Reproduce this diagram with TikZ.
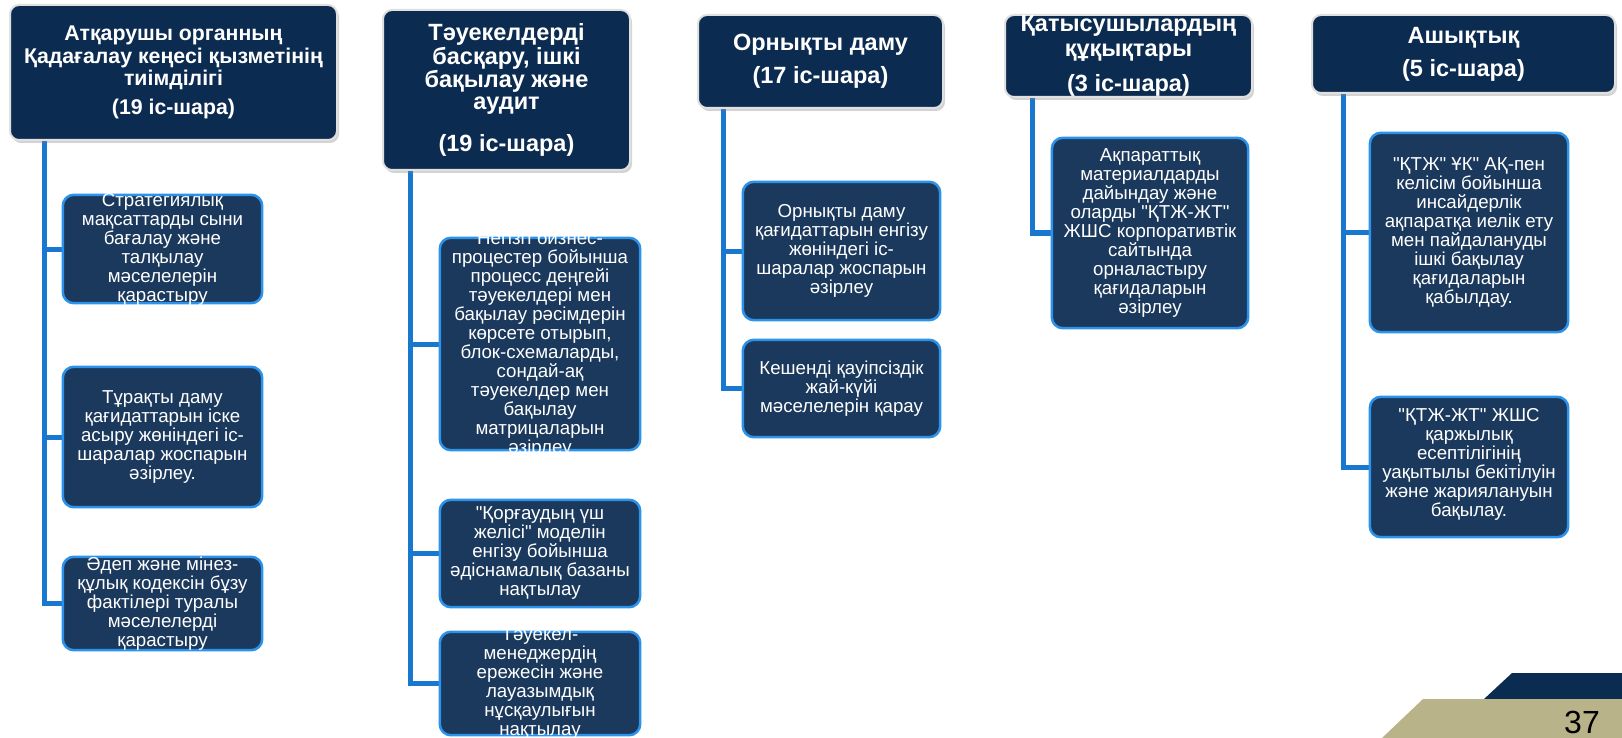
\documentclass[tikz,border=0pt]{standalone}
\usepackage{fontspec}
\setmainfont{Liberation Sans}
\newfontfamily\kzfont{Liberation Sans}
\usetikzlibrary{shadows}
\definecolor{hnavy}{HTML}{0C2B50}
\definecolor{cnavy}{HTML}{1B395C}
\definecolor{cedge}{HTML}{2C93EC}
\definecolor{lblue}{HTML}{1A77CF}
\definecolor{tanc}{HTML}{B9B389}
\definecolor{pnavy}{HTML}{0A2C50}
\tikzset{
 hbox/.style={draw=black!12, line width=2pt, fill=hnavy, rounded corners=9pt, drop shadow={shadow xshift=2pt, shadow yshift=-3pt, opacity=0.35}},
 htext/.style={text=white, font=\kzfont\fontsize{23.5}{22}\selectfont\bfseries, align=center, inner sep=0pt},
 cbox/.style={draw=cedge, line width=2.5pt, fill=cnavy, rounded corners=11pt},
 ctext/.style={text=white, font=\kzfont\fontsize{18.7}{19}\selectfont, align=center, inner sep=0pt},
 conn/.style={draw=lblue, line width=5pt},
}
\begin{document}
\begin{tikzpicture}[x=1pt,y=-1pt]
\useasboundingbox (0,0) rectangle (1622,738);
% vertical connector tops
\coordinate (v1) at (44,138);
\coordinate (v2) at (410,165);
\coordinate (v3) at (723,105);
\coordinate (v4) at (1032,95);
\coordinate (v5) at (1343,90);
% boxes (shapes only, for anchors)
\path
 (162.5,249) node[minimum width=199pt, minimum height=108pt] (c11) {}
 (162.5,437) node[minimum width=199pt, minimum height=140pt] (c12) {}
 (162.5,603.5) node[minimum width=199pt, minimum height=93pt] (c13) {}
 (540,344) node[minimum width=200pt, minimum height=212pt] (c21) {}
 (540,553.5) node[minimum width=200pt, minimum height=107pt] (c22) {}
 (540,683.5) node[minimum width=200pt, minimum height=103pt] (c23) {}
 (841.5,251) node[minimum width=197pt, minimum height=138pt] (c31) {}
 (841.5,388.5) node[minimum width=197pt, minimum height=97pt] (c32) {}
 (1150,233) node[minimum width=196pt, minimum height=190pt] (c41) {}
 (1469,232.5) node[minimum width=198pt, minimum height=199pt] (c51) {}
 (1469,467) node[minimum width=198pt, minimum height=140pt] (c52) {};
% connectors
\draw[conn] (v1) |- (c13.west);
\draw[conn] (v1) |- (c11.west);
\draw[conn] (v1) |- (c12.west);
\draw[conn] (v2) |- (c23.west);
\draw[conn] (v2) |- (c21.west);
\draw[conn] (v2) |- (c22.west);
\draw[conn] (v3) |- (c32.west);
\draw[conn] (v3) |- (c31.west);
\draw[conn] (v4) |- (c41.west);
\draw[conn] (v5) |- (c52.west);
\draw[conn] (v5) |- (c51.west);
% headers
\node[hbox, minimum width=327pt, minimum height=135pt] (h1) at (173.5,72.5) {};
\node[hbox, minimum width=247pt, minimum height=160pt] (h2) at (506.5,90) {};
\node[hbox, minimum width=245pt, minimum height=93pt] (h3) at (820.5,61.5) {};
\node[hbox, minimum width=247pt, minimum height=82pt] (h4) at (1128.5,56) {};
\node[hbox, minimum width=303pt, minimum height=78pt] (h5) at (1463.5,54) {};
\node[htext, font=\kzfont\fontsize{21.3}{22.5}\selectfont\bfseries] (h1t) at (h1) {Атқарушы органның\\Қадағалау кеңесі қызметінің\\тиімділігі\\[6pt](19 іс-шара)};
\node[htext] (h2t) at (h2) {Тәуекелдерді\\басқару, ішкі\\бақылау және\\аудит\\[20pt](19 іс-шара)};
\node[htext] (h3t) at (h3) {Орнықты даму\\[11pt](17 іс-шара)};
\node[htext] (h4t) at (h4) {Қатысушылардың\\[3pt]құқықтары\\[13pt](3 іс-шара)};
\node[htext] (h5t) at (h5) {Ашықтық\\[11pt](5 іс-шара)};
% child boxes drawn
\foreach \n in {c11,c12,c13,c21,c22,c23,c31,c32,c41,c51,c52}
 \draw[cbox] (\n.north west) rectangle (\n.south east);
\node[ctext] (c11t) at (c11) {Стратегиялық\\мақсаттарды сыни\\бағалау және\\талқылау\\мәселелерін\\қарастыру};
\node[ctext] (c12t) at (c12) {Тұрақты даму\\қағидаттарын іске\\асыру жөніндегі іс-\\шаралар жоспарын\\әзірлеу.};
\node[ctext] (c13t) at (c13) {Әдеп және мінез-\\құлық кодексін бұзу\\фактілері туралы\\мәселелерді\\қарастыру};
\node[ctext] (c21t) at (c21) {Негізгі бизнес-\\процестер бойынша\\процесс деңгейі\\тәуекелдері мен\\бақылау рәсімдерін\\көрсете отырып,\\блок-схемаларды,\\сондай-ақ\\тәуекелдер мен\\бақылау\\матрицаларын\\әзірлеу};
\node[ctext] (c22t) at (c22) {"Қорғаудың үш\\желісі" моделін\\енгізу бойынша\\әдіснамалық базаны\\нақтылау};
\node[ctext] (c23t) at (c23) {Тәуекел-\\менеджердің\\ережесін және\\лауазымдық\\нұсқаулығын\\нақтылау};
\node[ctext] (c31t) at (c31) {Орнықты даму\\қағидаттарын енгізу\\жөніндегі іс-\\шаралар жоспарын\\әзірлеу};
\node[ctext] (c32t) at (c32) {Кешенді қауіпсіздік\\жай-күйі\\мәселелерін қарау};
\node[ctext] (c41t) at (c41) {Ақпараттық\\материалдарды\\дайындау және\\оларды "ҚТЖ-ЖТ"\\ЖШС корпоративтік\\сайтында\\орналастыру\\қағидаларын\\әзірлеу};
\node[ctext] (c51t) at (c51) {"ҚТЖ" ҰК" АҚ-пен\\келісім бойынша\\инсайдерлік\\ақпаратқа иелік ету\\мен пайдалануды\\ішкі бақылау\\қағидаларын\\қабылдау.};
\node[ctext] (c52t) at (1469,464) {"ҚТЖ-ЖТ" ЖШС\\қаржылық\\есептілігінің\\уақытылы бекітілуін\\және жариялануын\\бақылау.};
% page corner
\fill[pnavy] (1484,699) -- (1512,673) -- (1622,673) -- (1622,699) -- cycle;
\fill[tanc] (1382,738) -- (1423,699) -- (1622,699) -- (1622,738) -- cycle;
\node[inner sep=0pt, font=\fontsize{32}{32}\selectfont] (pg) at (1582,722) {37};
\end{tikzpicture}
\end{document}
